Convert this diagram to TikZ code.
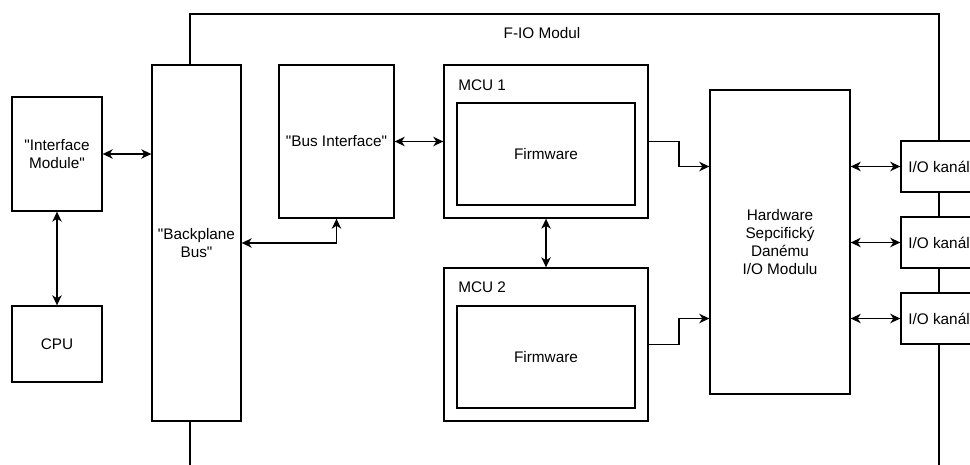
\documentclass[tikz,border=0pt]{standalone}
\usepackage{fontspec}
\setmainfont{Liberation Sans}[Ligatures=TeXOff]
\usetikzlibrary{arrows.meta}

\tikzset{
  block/.style={draw=black, fill=white, line width=1pt, inner sep=0pt,
    align=center, font=\fontsize{11.5}{13.5}\selectfont},
  % block of a given size in px: size={w}{h}
  size/.style 2 args={minimum width=#1*0.75pt, minimum height=#2*0.75pt},
  lbl/.style={font=\fontsize{11.5}{13.5}\selectfont, inner sep=0pt},
  link/.style={line width=1pt,
    arrows={Stealth[length=7.5pt,width=7pt,inset=2.2pt]-Stealth[length=7.5pt,width=7pt,inset=2.2pt]}},
  feed/.style={line width=1pt, -{Stealth[length=7.5pt,width=7pt,inset=2.2pt]}},
}

\begin{document}
\begin{tikzpicture}[x=0.75pt, y=-0.75pt]
  \useasboundingbox (0,0) rectangle (970,464);
  \clip (0,0) rectangle (970,464);
  \fill[white] (0,0) rectangle (970,464);

  % F-IO module frame (continues below the visible area)
  \draw[line width=1pt] (190,14) rectangle (939,520);
  \node[lbl] (fio) at (542,33) {F-IO Modul};

  % external blocks
  \node[block, size={90}{114}] (imod) at (57,154) {"Interface\\Module"};
  \node[block, size={90}{76}] (cpu) at (57,344) {CPU};

  % bus side
  \node[block, size={89}{356}] (bp) at (196.5,243) {"Backplane\\Bus"};
  \node[block, size={115}{153}] (busif) at (336.5,141.5) {"Bus Interface"};

  % microcontrollers
  \node[block, size={204}{153}] (mcu1) at (546,141.5) {};
  \node[lbl, anchor=west] (mcu1lbl) at (458,85) {MCU 1};
  \node[block, size={178}{102}] (fw1) at (546,154) {Firmware};

  \node[block, size={204}{153}] (mcu2) at (546,344.5) {};
  \node[lbl, anchor=west] (mcu2lbl) at (458,287) {MCU 2};
  \node[block, size={178}{102}] (fw2) at (546,357) {Firmware};

  % hardware and channels
  \node[block, size={140}{304}] (hw) at (780,242) {Hardware\\Sepcifický\\Danému\\ I/O Modulu};
  \node[block, size={76}{51}] (io1) at (939,166.5) {I/O kanál};
  \node[block, size={76}{51}] (io2) at (939,242.5) {I/O kanál};
  \node[block, size={76}{51}] (io3) at (939,318.5) {I/O kanál};

  % connections
  \draw[link] (imod.east) -- (imod.east -| bp.west);
  \draw[link] (imod.south) -- (cpu.north);
  \draw[link] (busif.south) |- (bp.east);
  \draw[link] (busif.east) -- (busif.east -| mcu1.west);
  \draw[link] (mcu1.south) -- (mcu2.north);

  \coordinate (j1) at (679,141.5);
  \coordinate (j2) at (679,344.5);
  \draw[feed] (mcu1.east) -- (j1) |- (hw.west |- io1.west);
  \draw[feed] (mcu2.east) -- (j2) |- (hw.west |- io3.west);

  \draw[link] (hw.east |- io1.west) -- (io1.west);
  \draw[link] (hw.east |- io2.west) -- (io2.west);
  \draw[link] (hw.east |- io3.west) -- (io3.west);
\end{tikzpicture}
\end{document}
